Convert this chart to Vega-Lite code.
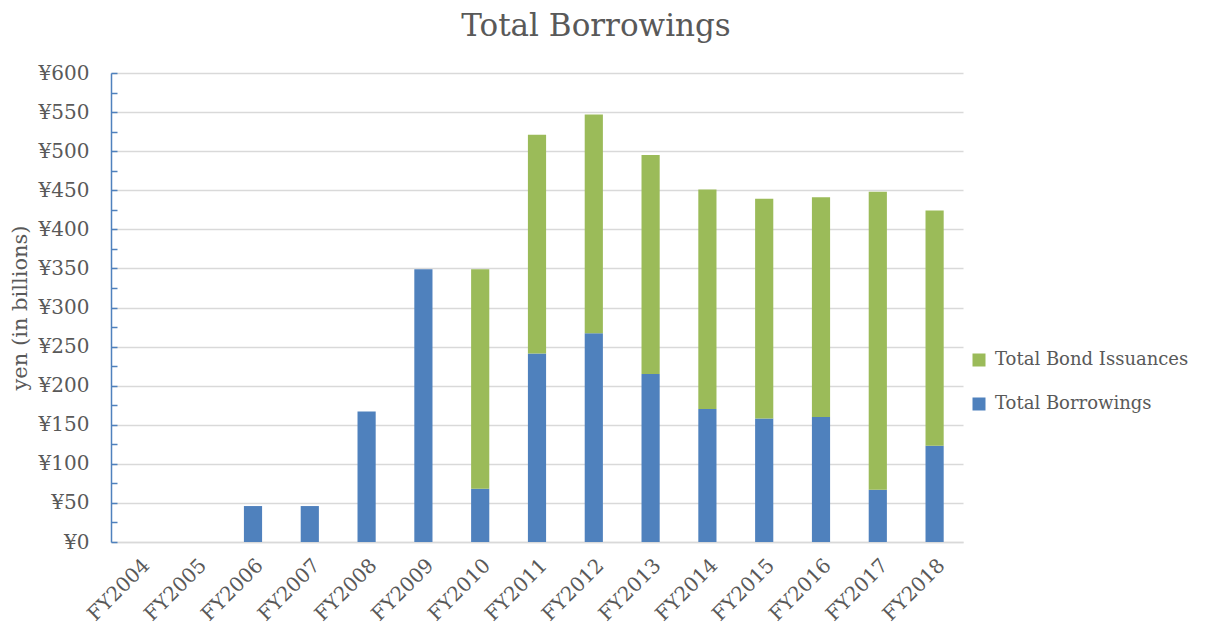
{
  "$schema": "https://vega.github.io/schema/vega-lite/v6.json",
  "width": 852,
  "height": 469,
  "autosize": "none",
  "padding": {"left": 111, "top": 73, "right": 249, "bottom": 89},
  "background": "white",
  "title": {"text": "Total Borrowings", "font": "DejaVu Serif", "fontSize": 31, "fontWeight": "normal", "color": "#595959", "anchor": "middle", "dx": 59, "offset": 20},
  "data": {"values": [
    {"year": "FY2004", "series": "Total Borrowings", "value": 0},
    {"year": "FY2005", "series": "Total Borrowings", "value": 0},
    {"year": "FY2006", "series": "Total Borrowings", "value": 46},
    {"year": "FY2007", "series": "Total Borrowings", "value": 46},
    {"year": "FY2008", "series": "Total Borrowings", "value": 167},
    {"year": "FY2009", "series": "Total Borrowings", "value": 349},
    {"year": "FY2010", "series": "Total Borrowings", "value": 68},
    {"year": "FY2011", "series": "Total Borrowings", "value": 241},
    {"year": "FY2012", "series": "Total Borrowings", "value": 267},
    {"year": "FY2013", "series": "Total Borrowings", "value": 215},
    {"year": "FY2014", "series": "Total Borrowings", "value": 170},
    {"year": "FY2015", "series": "Total Borrowings", "value": 158},
    {"year": "FY2016", "series": "Total Borrowings", "value": 160},
    {"year": "FY2017", "series": "Total Borrowings", "value": 67},
    {"year": "FY2018", "series": "Total Borrowings", "value": 123},
    {"year": "FY2004", "series": "Total Bond Issuances", "value": 0},
    {"year": "FY2005", "series": "Total Bond Issuances", "value": 0},
    {"year": "FY2006", "series": "Total Bond Issuances", "value": 0},
    {"year": "FY2007", "series": "Total Bond Issuances", "value": 0},
    {"year": "FY2008", "series": "Total Bond Issuances", "value": 0},
    {"year": "FY2009", "series": "Total Bond Issuances", "value": 0},
    {"year": "FY2010", "series": "Total Bond Issuances", "value": 281},
    {"year": "FY2011", "series": "Total Bond Issuances", "value": 280},
    {"year": "FY2012", "series": "Total Bond Issuances", "value": 280},
    {"year": "FY2013", "series": "Total Bond Issuances", "value": 280},
    {"year": "FY2014", "series": "Total Bond Issuances", "value": 281},
    {"year": "FY2015", "series": "Total Bond Issuances", "value": 281},
    {"year": "FY2016", "series": "Total Bond Issuances", "value": 281},
    {"year": "FY2017", "series": "Total Bond Issuances", "value": 381},
    {"year": "FY2018", "series": "Total Bond Issuances", "value": 301}
  ]},
  "mark": {"type": "bar"},
  "encoding": {
    "x": {
      "field": "year", "type": "nominal", "sort": null, "title": null,
      "scale": {"paddingInner": 0.68, "paddingOuter": 0.34},
      "axis": {"labelAngle": -45, "labelFont": "DejaVu Serif", "labelFontSize": 20, "labelColor": "#595959", "ticks": false, "domainColor": "#D9D9D9", "domainWidth": 1.5, "labelPadding": 13}
    },
    "y": {
      "field": "value", "type": "quantitative", "stack": "zero",
      "scale": {"domain": [0, 600], "nice": false},
      "title": "yen (in billions)",
      "axis": {
        "values": [0,25,50,75,100,125,150,175,200,225,250,275,300,325,350,375,400,425,450,475,500,525,550,575,600],
        "labelExpr": "datum.value % 50 === 0 ? '¥' + datum.value : ''",
        "labelFont": "DejaVu Serif", "labelFontSize": 20, "labelColor": "#595959",
        "labelPadding": 28,
        "titleFont": "DejaVu Serif", "titleFontSize": 21, "titleFontWeight": "normal", "titleColor": "#595959", "titlePadding": 8,
        "domainColor": "#4F81BD", "domainWidth": 1.5,
        "tickColor": "#4F81BD", "tickSize": -6, "tickWidth": 1.5,
        "grid": true, "gridColor": "#D9D9D9", "gridWidth": 1.5,
        "gridOpacity": {"condition": {"test": "datum.value % 50 === 0", "value": 1}, "value": 0}
      }
    },
    "color": {
      "field": "series", "type": "nominal",
      "scale": {"domain": ["Total Bond Issuances", "Total Borrowings"], "range": ["#9BBB59", "#4F81BD"]},
      "legend": {"title": null, "orient": "none", "legendX": 859, "legendY": 278, "symbolType": "square", "symbolSize": 169, "symbolStrokeWidth": 0, "symbolOpacity": 1, "labelFont": "DejaVu Serif", "labelFontSize": 18, "labelColor": "#595959", "labelLimit": 400, "rowPadding": 26, "labelOffset": 7}
    },
    "order": {"field": "series", "sort": "descending"}
  },
  "config": {"view": {"stroke": null}}
}
